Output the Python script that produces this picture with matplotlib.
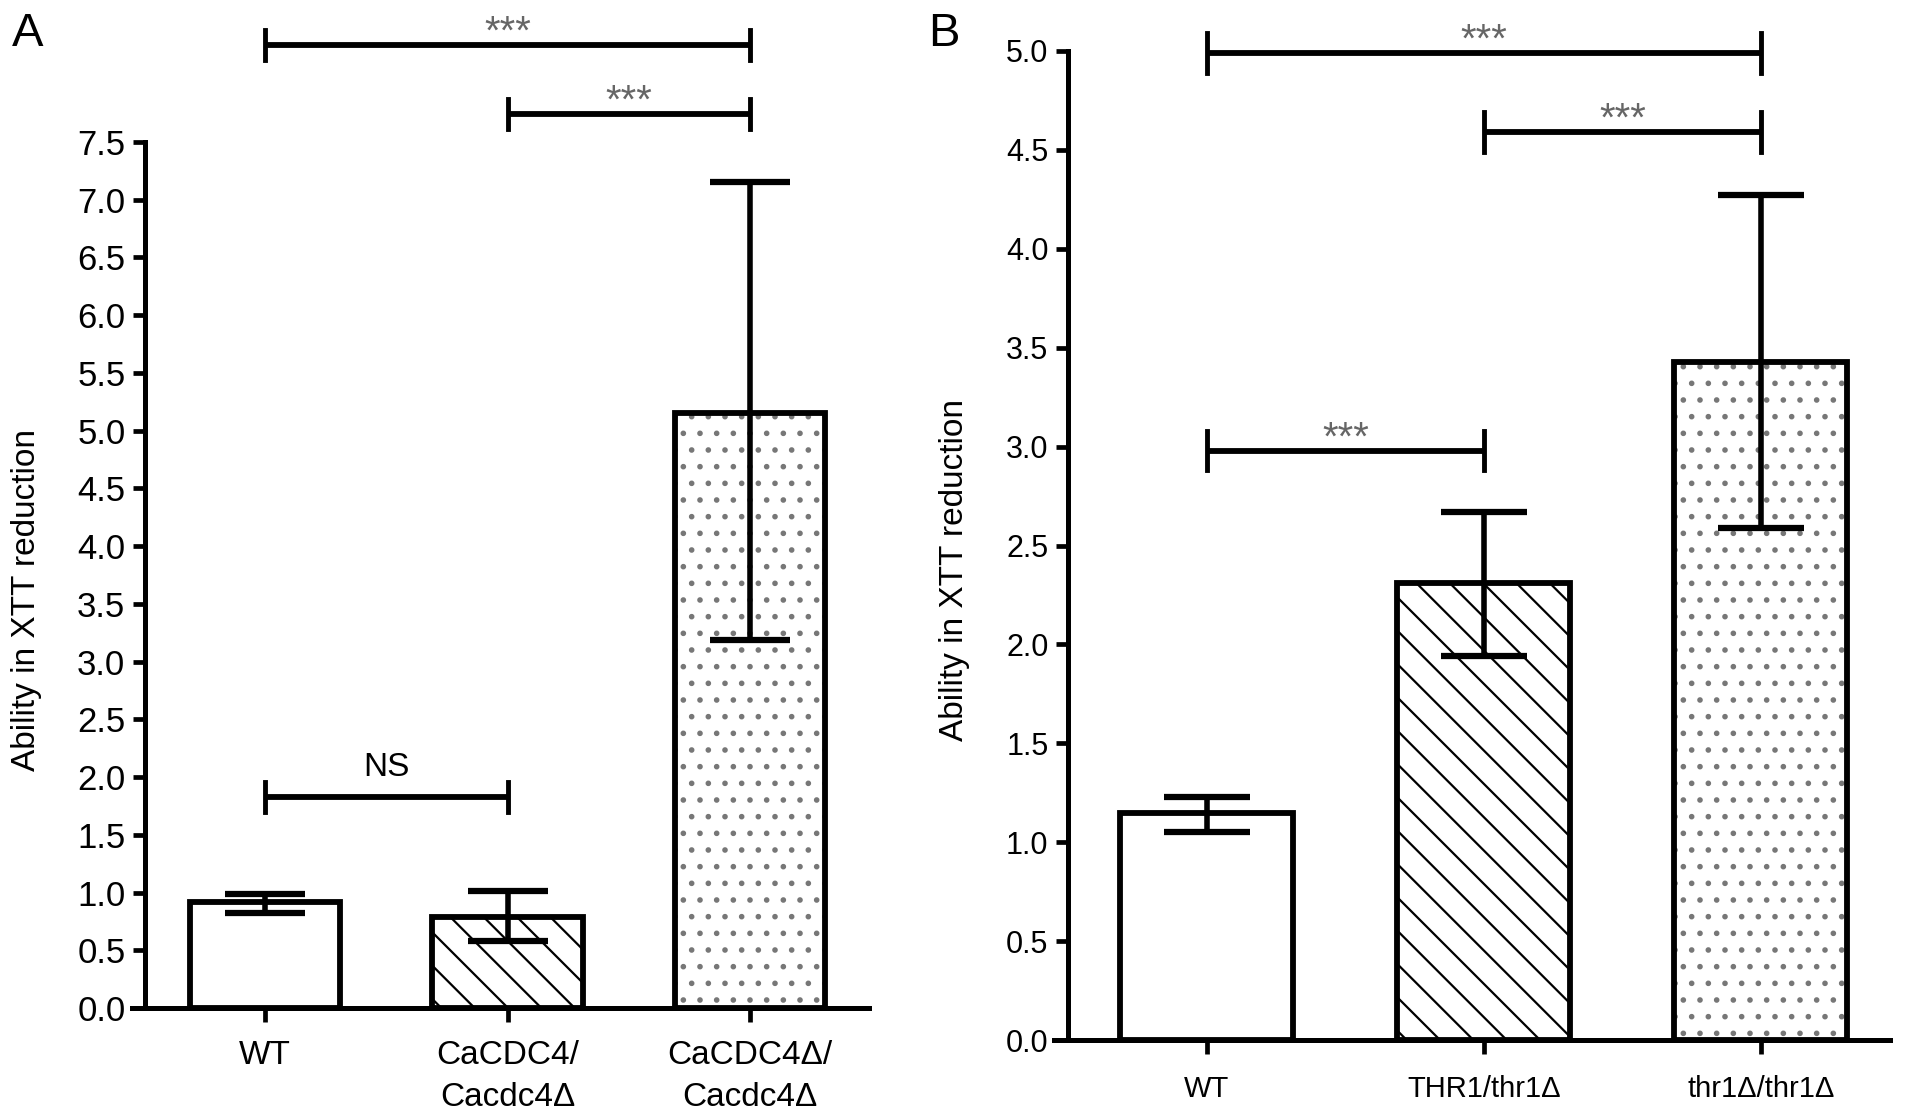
import matplotlib
matplotlib.use("Agg")
import matplotlib.pyplot as plt

# panel A data
cats_a = ["WT", "CaCDC4/\nCacdc4Δ", "CaCDC4Δ/\nCacdc4Δ"]
vals_a = [0.92, 0.79, 5.15]
err_lo_a = [0.10, 0.21, 1.96]
err_hi_a = [0.07, 0.22, 2.00]
yticks_a = [i * 0.5 for i in range(16)]
# significance brackets: (i, j, height, label)
sig_a = [(0, 2, 8.34, "***"), (1, 2, 7.74, "***"), (0, 1, 1.83, "NS")]

# panel B data
cats_b = ["WT", "THR1/thr1Δ", "thr1Δ/thr1Δ"]
vals_b = [1.15, 2.31, 3.43]
err_lo_b = [0.10, 0.37, 0.84]
err_hi_b = [0.08, 0.36, 0.84]
yticks_b = [i * 0.5 for i in range(11)]
sig_b = [(0, 2, 4.99, "***"), (1, 2, 4.59, "***"), (0, 1, 2.98, "***")]

hatches = [None, "\\", "."]
hatch_cols = ["white", "black", "#777777"]

plt.rcParams["font.family"] = ["Liberation Sans", "DejaVu Sans"]
plt.rcParams["hatch.linewidth"] = 1.6

fig = plt.figure(figsize=(19.13, 11.15), dpi=100)
W, H = 1913.0, 1115.0


def panel(rect, spine_x, xlim, cats, vals, lo, hi, yticks, ymax, sig,
          bar_w, capsize, tick_pad, tick_fs, xlab_fs, end_d, ns_off):
    ax = fig.add_axes(rect)
    x = list(range(len(cats)))
    for i in x:
        if hatches[i]:
            ax.bar(x[i], vals[i], bar_w, color="white", edgecolor=hatch_cols[i],
                   hatch=hatches[i], linewidth=0, zorder=2)
        ax.bar(x[i], vals[i], bar_w, facecolor="none", edgecolor="black",
               linewidth=4.2, zorder=3)
    ax.errorbar(x, vals, yerr=[lo, hi], fmt="none", ecolor="black",
                elinewidth=4, capsize=capsize, capthick=4.5, zorder=4)
    for i, j, h, lab in sig:
        ax.plot([x[i], x[j]], [h, h], color="black", lw=4.2,
                clip_on=False, solid_capstyle="butt")
        for k in (i, j):
            ax.plot([x[k], x[k]], [h - end_d, h + end_d], color="black",
                    lw=3.5, clip_on=False)
        if lab == "NS":
            ax.text((x[i] + x[j]) / 2, h + ns_off, lab, ha="center",
                    va="bottom", fontsize=24, color="black")
        else:
            ax.annotate(lab, ((x[i] + x[j]) / 2, h), xytext=(0, 1),
                        textcoords="offset points", ha="center",
                        va="baseline", fontsize=29, color="#666666",
                        annotation_clip=False)
    ax.set_xlim(*xlim)
    ax.set_ylim(0, ymax)
    ax.spines["top"].set_visible(False)
    ax.spines["right"].set_visible(False)
    ax.spines["left"].set_position(("data", spine_x))
    ax.spines["left"].set_linewidth(3.6)
    ax.spines["bottom"].set_linewidth(3.6)
    ax.set_yticks(yticks)
    ax.set_yticklabels([f"{t:.1f}" for t in yticks])
    ax.set_xticks(x)
    ax.set_xticklabels(cats, linespacing=1.45)
    ax.tick_params(axis="y", direction="out", length=9, width=3.4,
                   labelsize=tick_fs, pad=5)
    ax.tick_params(axis="x", direction="out", length=10, width=3.4,
                   labelsize=xlab_fs, pad=tick_pad)
    return ax


ax_a = panel([132 / W, 1 - 1008 / H, (869 - 132) / W, (1008 - 142) / H],
             -0.495, (-0.548, 2.49), cats_a, vals_a, err_lo_a, err_hi_a,
             yticks_a, 7.5, sig_a, 0.62, 29, 13, 25, 24, 0.13, 0.12)
ax_b = panel([1054 / W, 1 - 1040 / H, (1890 - 1054) / W, (1040 - 51) / H],
             -0.502, (-0.552, 2.466), cats_b, vals_b, err_lo_b, err_hi_b,
             yticks_b, 5.0, sig_b, 0.625, 31, 15, 22, 21, 0.1, 0.08)

fig.text(27 / W, 1 - 600 / H, "Ability in XTT reduction", rotation=90,
         ha="center", va="center", fontsize=24)
fig.text(954 / W, 1 - 570 / H, "Ability in XTT reduction", rotation=90,
         ha="center", va="center", fontsize=24)
fig.text(12 / W, 1 - 34 / H, "A", ha="left", va="center", fontsize=34)
fig.text(928 / W, 1 - 34 / H, "B", ha="left", va="center", fontsize=34)

fig.savefig("out.png", dpi=100)
